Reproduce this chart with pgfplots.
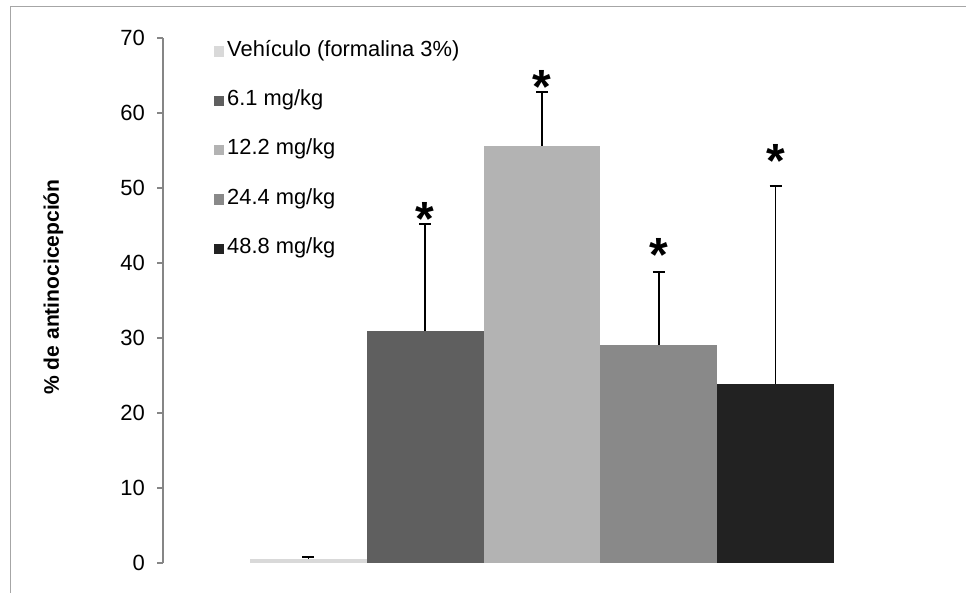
\documentclass[border=0pt]{standalone}
\usepackage{fontspec}
\setmainfont{Liberation Sans}
\usepackage{pgfplots}
\pgfplotsset{compat=1.18}
\definecolor{cveh}{HTML}{D9D9D9}
\definecolor{cA}{HTML}{5F5F5F}
\definecolor{cB}{HTML}{B3B3B3}
\definecolor{cC}{HTML}{898989}
\definecolor{cD}{HTML}{222222}
\definecolor{axgray}{HTML}{868686}
\definecolor{framegray}{HTML}{A6A6A6}
\begin{document}
\begin{tikzpicture}
\useasboundingbox (0pt,0pt) rectangle (724.5pt,444pt);
\draw[framegray, line width=0.75pt] (7.5pt,-2pt) -- (7.5pt,438.75pt) -- (726pt,438.75pt);
\begin{axis}[
  at={(122.25pt,21.75pt)}, anchor=south west,
  scale only axis, width=568.5pt, height=393.75pt,
  xmin=-1.245, xmax=5.245, ymin=0, ymax=70,
  axis x line=none,
  axis y line*=left,
  y axis line style={draw=axgray, line width=0.9pt},
  ytick={0,10,...,70},
  ytick style={draw=axgray, line width=0.9pt},
  tick align=outside, major tick length=4.5pt,
  yticklabel style={font=\fontsize{16.5}{18}\selectfont, text=black, xshift=-5.5pt},
  /pgf/number format/assume math mode=true,
  ybar, bar width=1, 
  legend style={draw=none, fill=none, at={(rel axis cs:0.061,0.995)}, anchor=north west,
    font=\fontsize{16.4}{18}\selectfont, row sep=25pt,
    nodes={inner sep=0pt, text height=9.5pt, text depth=2.5pt},
    /tikz/every odd column/.append style={column sep=2.5pt}},
  legend cell align=left,
  legend image code/.code={\fill[#1] (0pt,-3.9pt) rectangle (7.8pt,3.9pt);},
  error bars/y dir=plus, error bars/y explicit,
  error bars/error bar style={black, line width=1.3pt},
  error bars/error mark options={black, line width=1.3pt, mark size=4.5pt, rotate=90},
]
\addplot[fill=cveh, draw=none, bar shift=0pt] coordinates {(0,0.55) +- (0,0.25)};
\addlegendentry{Vehículo (formalina 3\%)}
\addplot[fill=cA, draw=none, bar shift=0pt] coordinates {(1,30.9) +- (0,14.3)};
\addlegendentry{6.1 mg/kg}
\addplot[fill=cB, draw=none, bar shift=0pt] coordinates {(2,55.6) +- (0,7.2)};
\addlegendentry{12.2 mg/kg}
\addplot[fill=cC, draw=none, bar shift=0pt] coordinates {(3,29.1) +- (0,9.7)};
\addlegendentry{24.4 mg/kg}
\addplot[fill=cD, draw=none, bar shift=0pt] coordinates {(4,23.9) +- (0,26.4)};
\addlegendentry{48.8 mg/kg}
\node[font=\bfseries\fontsize{36}{36}\selectfont, inner sep=0pt, yshift=-5pt] at (axis cs:1,46.8) {*};
\node[font=\bfseries\fontsize{36}{36}\selectfont, inner sep=0pt, yshift=-5pt] at (axis cs:2,64.3) {*};
\node[font=\bfseries\fontsize{36}{36}\selectfont, inner sep=0pt, yshift=-5pt] at (axis cs:3,42.0) {*};
\node[font=\bfseries\fontsize{36}{36}\selectfont, inner sep=0pt, yshift=-5pt] at (axis cs:4,54.5) {*};
\end{axis}
\node[rotate=90, font=\bfseries\fontsize{15.8}{18}\selectfont] at (40pt,228.75pt) {\% de antinocicepción};
\end{tikzpicture}
\end{document}
